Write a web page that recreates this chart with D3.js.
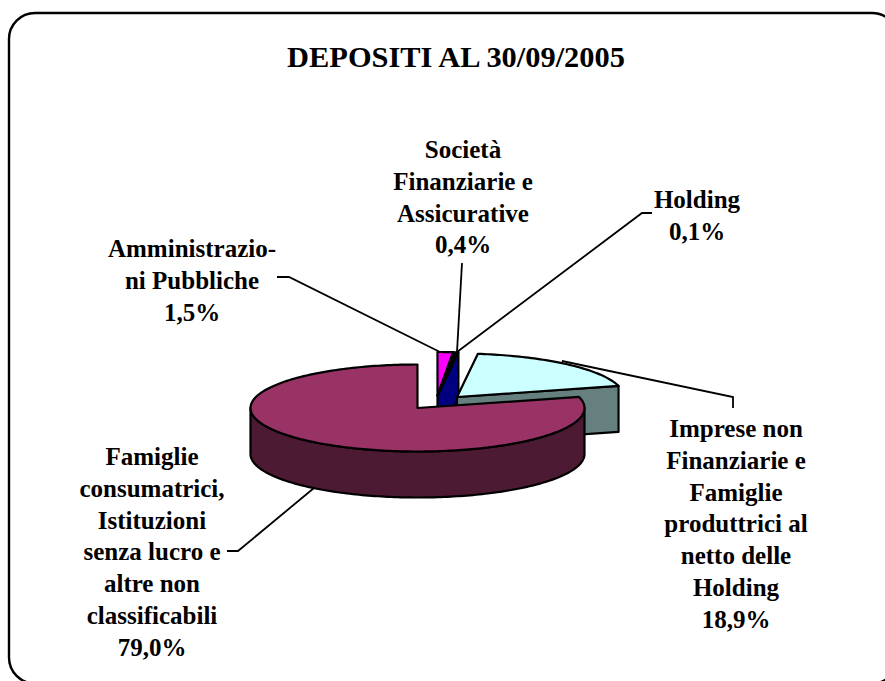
<!DOCTYPE html>
<html>
<head>
<meta charset="utf-8">
<script src="https://cdn.jsdelivr.net/npm/d3@7"></script>
<style>
  html, body { margin: 0; padding: 0; background: #fff; overflow: hidden; }
  text { font-family: "Liberation Serif", "Times New Roman", serif; font-weight: bold; fill: #000; }
</style>
</head>
<body>
<div id="chart"></div>
<script>
const title = 'DEPOSITI AL 30/09/2005';
const categories = ['Famiglie', 'Amministrazioni', 'Finanziarie', 'Holding', 'Imprese'];
const values = [79.0, 1.5, 0.4, 0.1, 18.9];
const topColors = ['#993366', '#ff00ff', '#000000', '#000000', '#ccffff'];
const wallColors = ['#4d1a33', '#800080', '#000080', '#000080', '#668080'];
const labelLines = [
  ['Famiglie', 'consumatrici,', 'Istituzioni', 'senza lucro e', 'altre non', 'classificabili', '79,0%'],
  ['Amministrazio-', 'ni Pubbliche', '1,5%'],
  ['Società', 'Finanziarie e', 'Assicurative', '0,4%'],
  ['Holding', '0,1%'],
  ['Imprese non', 'Finanziarie e', 'Famiglie', 'produttrici al', 'netto delle', 'Holding', '18,9%']
];

const width = 885, height = 681;
const rx = 167, ry = 43.5, depth = 46;
const startDeg = 75.3;

// where each slice's apex ends up once exploded
const centers = [[417.5, 408], [437.5, 395.5], [437.5, 395.5], [437.5, 395.5], [457, 397]];
const labelPos = [[152, 465], [192, 257], [463, 158], [697, 208], [736, 437]];
const leaders = [
  [[227, 551], [238, 551], [314, 488]],
  [[277, 277], [289, 277], [440, 352]],
  [[462, 263], [457, 352]],
  [[652, 213], [642, 213], [457, 352]],
  [[733, 408], [733, 397], [562, 361]]
];

const svg = d3.select('#chart').append('svg')
  .attr('width', width)
  .attr('height', height);

// frame runs past the picture on the right and bottom
svg.append('rect')
  .attr('x', 9).attr('y', 13)
  .attr('width', 889).attr('height', 670.5)
  .attr('rx', 26).attr('ry', 26)
  .attr('fill', '#fff')
  .attr('stroke', '#000')
  .attr('stroke-width', 2.4);

svg.append('text')
  .attr('x', 456)
  .attr('y', 67)
  .attr('text-anchor', 'middle')
  .attr('font-size', '30.4px')
  .text(title);

const pie = d3.pie()
  .sort(null)
  .value(d => d)
  .startAngle(startDeg * Math.PI / 180)
  .endAngle((startDeg + 360) * Math.PI / 180);
const slices = pie(values);

const line = d3.line();

function rim(c, a, drop) {
  return [c[0] + rx * Math.sin(a), c[1] - ry * Math.cos(a) + (drop || 0)];
}

function arcPoints(c, a0, a1, drop) {
  const n = Math.max(2, Math.ceil(Math.abs(a1 - a0) / 0.02));
  return d3.range(n + 1).map(i => rim(c, a0 + (a1 - a0) * i / n, drop));
}

function drawShape(points, fill) {
  svg.append('path')
    .attr('d', line(points) + 'Z')
    .attr('fill', fill)
    .attr('stroke', '#000')
    .attr('stroke-width', 2.2)
    .attr('stroke-linejoin', 'round');
}

function drawSlice(i) {
  const d = slices[i], c = centers[i];
  const right = Math.PI / 2, left = 3 * Math.PI / 2;

  // cut face on the clockwise end: the holding slice hides the ones behind it,
  // and the big right slice shows its own
  if (i === 3 || i === 4) {
    const p = rim(c, d.endAngle);
    drawShape([c, p, [p[0], p[1] + depth], [c[0], c[1] + depth]], wallColors[i]);
  }
  // outer wall, front half of the ellipse only
  const a0 = Math.max(d.startAngle, right), a1 = Math.min(d.endAngle, left);
  if (a1 > a0) {
    drawShape(arcPoints(c, a0, a1).concat(arcPoints(c, a1, a0, depth)), wallColors[i]);
  }
  drawShape([c].concat(arcPoints(c, d.startAngle, d.endAngle)), topColors[i]);
}

// back to front
[3, 1, 2, 4, 0].forEach(drawSlice);

svg.selectAll('.leader')
  .data(leaders)
  .enter().append('path')
  .attr('class', 'leader')
  .attr('d', d => line(d))
  .attr('fill', 'none')
  .attr('stroke', '#000')
  .attr('stroke-width', 1.8);

labelLines.forEach((lines, i) => {
  const t = svg.append('text')
    .attr('x', labelPos[i][0])
    .attr('y', labelPos[i][1])
    .attr('text-anchor', 'middle')
    .attr('font-size', '25px');
  lines.forEach((s, j) => {
    t.append('tspan')
      .attr('x', labelPos[i][0])
      .attr('dy', j === 0 ? 0 : 31.8)
      .text(s);
  });
});
</script>
</body>
</html>
